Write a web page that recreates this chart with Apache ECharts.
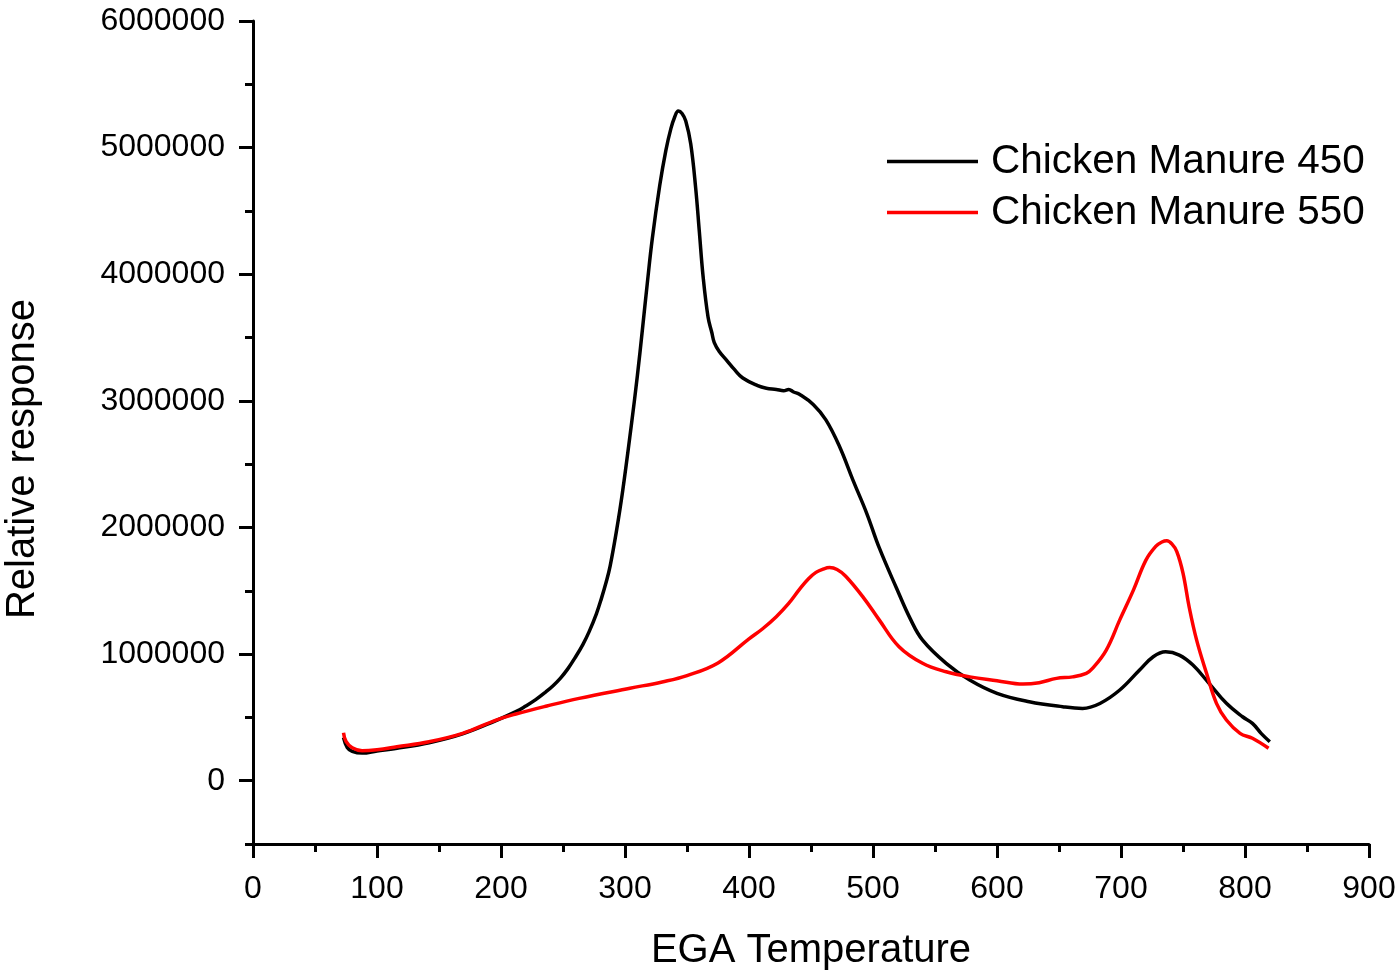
<!DOCTYPE html>
<html>
<head>
<meta charset="utf-8">
<title>EGA Temperature</title>
<script src="https://cdn.jsdelivr.net/npm/echarts@6/dist/echarts.min.js"></script>
<style>
  html, body { margin: 0; padding: 0; background: #fff; }
  #main { width: 1396px; height: 970px; }
</style>
</head>
<body>
<div id="main"></div>
<script>
// data
var temps450 = [73, 76, 80, 88, 100, 115, 142, 169, 196, 212, 220, 228, 236, 242, 248, 254, 260, 266, 271, 277,
  281, 285, 288, 293, 298, 305, 310, 314, 318, 322, 328, 333, 337, 340, 343, 346, 349, 353, 357, 360,
  363, 367, 370, 372, 376, 382, 388, 395, 407, 414, 422, 428, 432, 436, 441, 452, 462, 473, 484, 495,
  505, 519, 530, 540, 559, 578, 600, 626, 653, 669, 683, 699, 715, 726, 736, 747, 758, 771, 785, 798,
  806, 813, 820];
var resp450 = [340000, 262000, 232000, 218000, 235000, 255000, 300000, 370000, 475000, 545000, 590000, 640000, 700000, 750000, 810000, 885000, 975000, 1075000, 1175000, 1320000,
  1440000, 1575000, 1695000, 1965000, 2280000, 2800000, 3200000, 3560000, 3930000, 4280000, 4700000, 4980000, 5150000, 5240000, 5290000, 5270000, 5210000, 5030000, 4680000, 4330000,
  3980000, 3660000, 3540000, 3460000, 3390000, 3320000, 3250000, 3180000, 3120000, 3100000, 3090000, 3080000, 3090000, 3070000, 3050000, 2970000, 2850000, 2640000, 2370000, 2110000,
  1840000, 1520000, 1280000, 1110000, 927000, 795000, 690000, 624000, 584000, 571000, 610000, 716000, 874000, 979000, 1018000, 992000, 913000, 769000, 611000, 505000,
  453000, 374000, 308000];

var temps550 = [73, 75, 80, 88, 100, 116, 142, 169, 196, 212, 237, 263, 304, 330, 350, 375, 400, 411, 422, 432,
  441, 448, 454, 460, 465, 471, 478, 492, 505, 521, 540, 559, 578, 600, 621, 634, 648, 661, 672, 677,
  688, 699, 710, 720, 728, 733, 737, 741, 745, 750, 755, 761, 769, 777, 785, 796, 806, 819];
var resp550 = [379000, 310000, 260000, 237000, 245000, 268000, 308000, 374000, 479000, 527000, 590000, 650000, 730000, 780000, 830000, 930000, 1120000, 1200000, 1295000, 1400000,
  1515000, 1595000, 1645000, 1672000, 1683000, 1668000, 1615000, 1450000, 1270000, 1058000, 927000, 860000, 820000, 790000, 763000, 774000, 808000, 820000, 848000, 887000,
  1030000, 1270000, 1505000, 1740000, 1850000, 1885000, 1895000, 1870000, 1810000, 1640000, 1370000, 1110000, 848000, 611000, 479000, 374000, 335000, 256000];

var seriesNames = ['Chicken Manure 450', 'Chicken Manure 550'];
var yLabelValues = [0, 1000000, 2000000, 3000000, 4000000, 5000000, 6000000];

function zip(xs, ys) {
  var out = [];
  for (var i = 0; i < xs.length; i++) out.push([xs[i], ys[i]]);
  return out;
}

var font = '"Liberation Sans", Arial, Helvetica, sans-serif';
var chart = echarts.init(document.getElementById('main'));

var option = {
  animation: false,
  backgroundColor: '#ffffff',
  textStyle: { fontFamily: font, color: '#000' },
  grid: { left: 253, right: 27, top: 21, bottom: 126, outerBoundsMode: 'none' },
  legend: {
    orient: 'vertical',
    left: 882,
    top: 136,
    icon: 'rect',
    itemWidth: 91,
    itemHeight: 3.5,
    itemGap: 10,
    textStyle: { fontSize: 40.5, color: '#000', fontFamily: font, lineHeight: 40, padding: [0, 0, 0, 8] },
    data: seriesNames
  },
  xAxis: {
    type: 'value',
    min: 0,
    max: 900,
    interval: 100,
    name: 'EGA Temperature',
    nameLocation: 'middle',
    nameGap: 87,
    nameTextStyle: { fontSize: 40, color: '#000', fontFamily: font },
    axisLine: { onZero: false, lineStyle: { color: '#000', width: 3 } },
    axisTick: { length: 14, lineStyle: { color: '#000', width: 3 } },
    minorTick: { show: true, splitNumber: 2, length: 8, lineStyle: { color: '#000', width: 3 } },
    axisLabel: { fontSize: 32, color: '#000', margin: 29, fontFamily: font },
    splitLine: { show: false },
    minorSplitLine: { show: false }
  },
  yAxis: [
    {
      // axis line + short ticks every 500000
      type: 'value',
      min: -500000,
      max: 6000000,
      interval: 500000,
      axisLine: { show: true, onZero: false, lineStyle: { color: '#000', width: 3 } },
      axisTick: { show: true, length: 8, lineStyle: { color: '#000', width: 3 } },
      axisLabel: { show: false },
      splitLine: { show: false }
    },
    {
      // long ticks + labels every 1000000
      type: 'value',
      position: 'left',
      min: -500000,
      max: 6000000,
      interval: 500000,
      axisLine: { show: false },
      axisTick: { show: true, length: 14, customValues: yLabelValues, lineStyle: { color: '#000', width: 3 } },
      axisLabel: {
        customValues: yLabelValues,
        fontSize: 32,
        color: '#000',
        margin: 28,
        fontFamily: font,
        formatter: function (v) { return String(v); }
      },
      splitLine: { show: false }
    }
  ],
  graphic: [{
    type: 'text',
    x: 23,
    y: 459,
    rotation: Math.PI / 2,
    style: {
      text: 'Relative response',
      fontSize: 40,
      fontFamily: font,
      fill: '#000',
      align: 'center',
      verticalAlign: 'middle'
    }
  }],
  series: [
    {
      name: seriesNames[0],
      type: 'line',
      yAxisIndex: 0,
      symbol: 'none',
      smooth: 0.4,
      color: '#000000',
      lineStyle: { color: '#000000', width: 3.5 },
      data: zip(temps450, resp450)
    },
    {
      name: seriesNames[1],
      type: 'line',
      yAxisIndex: 0,
      symbol: 'none',
      smooth: 0.4,
      color: '#ff0000',
      lineStyle: { color: '#ff0000', width: 3.5 },
      data: zip(temps550, resp550)
    }
  ]
};

chart.setOption(option);
</script>
</body>
</html>
